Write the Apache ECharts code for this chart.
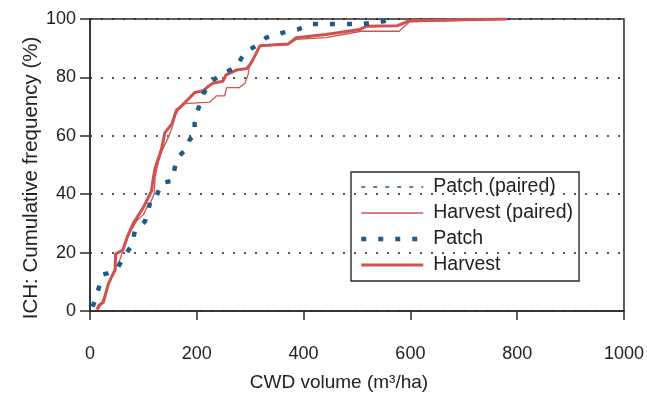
<!DOCTYPE html>
<html>
<head>
<meta charset="utf-8">
<script src="https://cdn.jsdelivr.net/npm/echarts@6/dist/echarts.min.js"></script>
<style>
  html, body { margin: 0; padding: 0; background: #fff; }
  #chart { width: 647px; height: 397px; }
</style>
</head>
<body>
<div id="chart"></div>
<script>
// Cumulative frequency curves of CWD volume, pairs of [volume m3/ha, cumulative %]
const patchPaired = [
  [5, 1.5], [9, 3.6], [18.7, 9.2], [25, 12.5], [34, 13], [53, 15.2], [65, 19], [78, 22.4],
  [84, 27.4], [103, 30.7], [109, 34.5], [115, 39], [125, 39.5], [134, 43.9], [153, 44.5],
  [156, 46.7], [162, 51.7], [168, 53.3], [181, 55.5], [187, 58.8], [196, 60], [196, 64.3],
  [202, 68.8], [212, 74.3], [227, 78.7], [252, 81.5], [274, 83.6], [290, 88.6], [311, 90.8],
  [330, 93.6], [361, 95.3], [389, 96.4], [414, 98.3], [510, 98.3], [542, 99], [573, 100]
];
const harvestPaired = [
  [15, 0.5], [20, 2], [27, 5], [36, 10], [45, 14], [55, 17], [64, 22], [75, 27], [88, 31],
  [100, 33], [108, 36], [113, 37], [120, 40], [122, 46], [128, 51], [135, 55], [143, 58],
  [148, 60], [154, 63], [160, 67], [166, 69], [172, 70], [178, 71], [224, 71.5], [237, 73.7],
  [252, 73.7], [256, 76.5], [280, 76.5], [290, 78], [296, 80.9], [299, 84.2], [305, 86],
  [318, 90.8], [371, 91.2], [386, 93], [442, 93.6], [508, 95.8], [579, 95.8], [598, 99],
  [781, 100]
];
const patch = [
  [5, 1.5], [9, 3.6], [18.7, 9.2], [25, 12.5], [34, 13], [53, 15.2], [65, 19], [78, 22.4],
  [84, 27.4], [103, 30.7], [109, 34.5], [115, 39], [125, 39.5], [134, 43.9], [153, 44.5],
  [156, 46.7], [162, 51.7], [168, 53.3], [181, 55.5], [187, 58.8], [196, 60], [196, 64.3],
  [202, 68.8], [212, 74.3], [227, 78.7], [252, 81.5], [274, 83.6], [290, 88.6], [311, 90.8],
  [330, 93.6], [361, 95.3], [389, 96.4], [414, 98.3], [510, 98.3], [542, 99], [573, 100]
];
const harvest = [
  [13, 0.5], [17, 2], [25, 3], [34, 9], [40, 11.5], [47, 14], [48, 19.5], [62, 21], [70, 25.5],
  [81, 30], [100, 35.5], [115, 41], [119, 46], [122, 49], [134, 55.5], [137, 58], [140, 61],
  [153, 64], [162, 68.8], [170, 70], [181, 72], [196, 74.8], [212, 75.4], [222, 77], [230, 78],
  [249, 78.7], [255, 80.9], [274, 82.5], [293, 83], [299, 84.2], [305, 86], [318, 90.8],
  [371, 91.4], [386, 93.6], [442, 94.7], [505, 96.4], [517, 97.5], [576, 97.7], [598, 99.4],
  [781, 100]
];

const seriesNames = ['Patch (paired)', 'Harvest (paired)', 'Patch', 'Harvest'];
const xTicks = { min: 0, max: 1000, interval: 200 };
const yTicks = { min: 0, max: 100, interval: 20 };

const BLUE = '#1d5c88';
const RED = '#d0524f';
const INK = '#2b2b2b';
const TEXT = '#222';
const FONT = '"Liberation Sans", Arial, sans-serif';

const DOTS = [5, 12];
const NO_MARKER = { opacity: 0, color: 'transparent', borderWidth: 0 };

const chart = echarts.init(document.getElementById('chart'), null, { renderer: 'canvas' });

chart.setOption({
  animation: false,
  backgroundColor: '#fff',
  textStyle: { fontFamily: FONT },
  grid: {
    left: 90, right: 22, top: 19, bottom: 76,
    show: true, borderColor: INK, borderWidth: 1.5, backgroundColor: 'transparent'
  },
  legend: {
    orient: 'vertical',
    left: 351, top: 172,
    itemWidth: 62, itemHeight: 14, itemGap: 6,
    padding: [5, 6, 6, 8],
    borderColor: INK, borderWidth: 1.4,
    textStyle: { fontSize: 19.5, lineHeight: 19, color: TEXT, fontFamily: FONT, padding: [0, 0, 0, 5] },
    data: [
      { name: seriesNames[0], itemStyle: NO_MARKER, lineStyle: { width: 1.6, type: [4, 8], color: BLUE } },
      { name: seriesNames[1], itemStyle: NO_MARKER, lineStyle: { width: 1.3, color: RED } },
      { name: seriesNames[2], itemStyle: NO_MARKER, lineStyle: { width: 4.5, type: DOTS, color: BLUE } },
      { name: seriesNames[3], itemStyle: NO_MARKER, lineStyle: { width: 3, color: RED } }
    ]
  },
  xAxis: {
    type: 'value',
    min: xTicks.min, max: xTicks.max, interval: xTicks.interval,
    name: 'CWD volume (m³/ha)',
    nameLocation: 'middle', nameGap: 62, nameMoveOverlap: false,
    nameTextStyle: { fontSize: 19, color: TEXT, fontFamily: FONT, padding: [0, 36, 0, 0] },
    axisLine: { show: true, lineStyle: { color: INK, width: 1.5 } },
    axisTick: { show: true, inside: false, length: 9, lineStyle: { color: INK, width: 1.5 } },
    axisLabel: {
      fontSize: 18, color: TEXT, margin: 34, fontFamily: FONT,
      formatter: (v) => String(v)
    },
    splitLine: { show: false }
  },
  yAxis: {
    type: 'value',
    min: yTicks.min, max: yTicks.max, interval: yTicks.interval,
    name: 'ICH: Cumulative frequency (%)',
    nameLocation: 'middle', nameGap: 48, nameRotate: 90, nameMoveOverlap: false,
    nameTextStyle: { fontSize: 20.5, color: TEXT, fontFamily: FONT, padding: [0, 26, 0, 0] },
    axisLine: { show: true, lineStyle: { color: INK, width: 1.5 } },
    axisTick: { show: true, inside: false, length: 10, lineStyle: { color: INK, width: 1.5 } },
    axisLabel: { fontSize: 18, color: TEXT, margin: 14, fontFamily: FONT },
    splitLine: {
      show: true,
      lineStyle: { color: '#222', width: 1.6, type: [2, 9] }
    }
  },
  series: [
    {
      name: seriesNames[0], type: 'line', data: patchPaired, showSymbol: false, symbol: 'none',
      z: 3, lineStyle: { color: BLUE, width: 1.6, type: DOTS }, itemStyle: { color: BLUE }
    },
    {
      name: seriesNames[1], type: 'line', data: harvestPaired, showSymbol: false, symbol: 'none',
      z: 2, lineStyle: { color: RED, width: 1.3 }, itemStyle: { color: RED }
    },
    {
      name: seriesNames[2], type: 'line', data: patch, showSymbol: false, symbol: 'none',
      z: 4, lineStyle: { color: BLUE, width: 4.5, type: DOTS }, itemStyle: { color: BLUE }
    },
    {
      name: seriesNames[3], type: 'line', data: harvest, showSymbol: false, symbol: 'none',
      z: 2, lineStyle: { color: RED, width: 3 }, itemStyle: { color: RED }
    }
  ]
});
</script>
</body>
</html>
